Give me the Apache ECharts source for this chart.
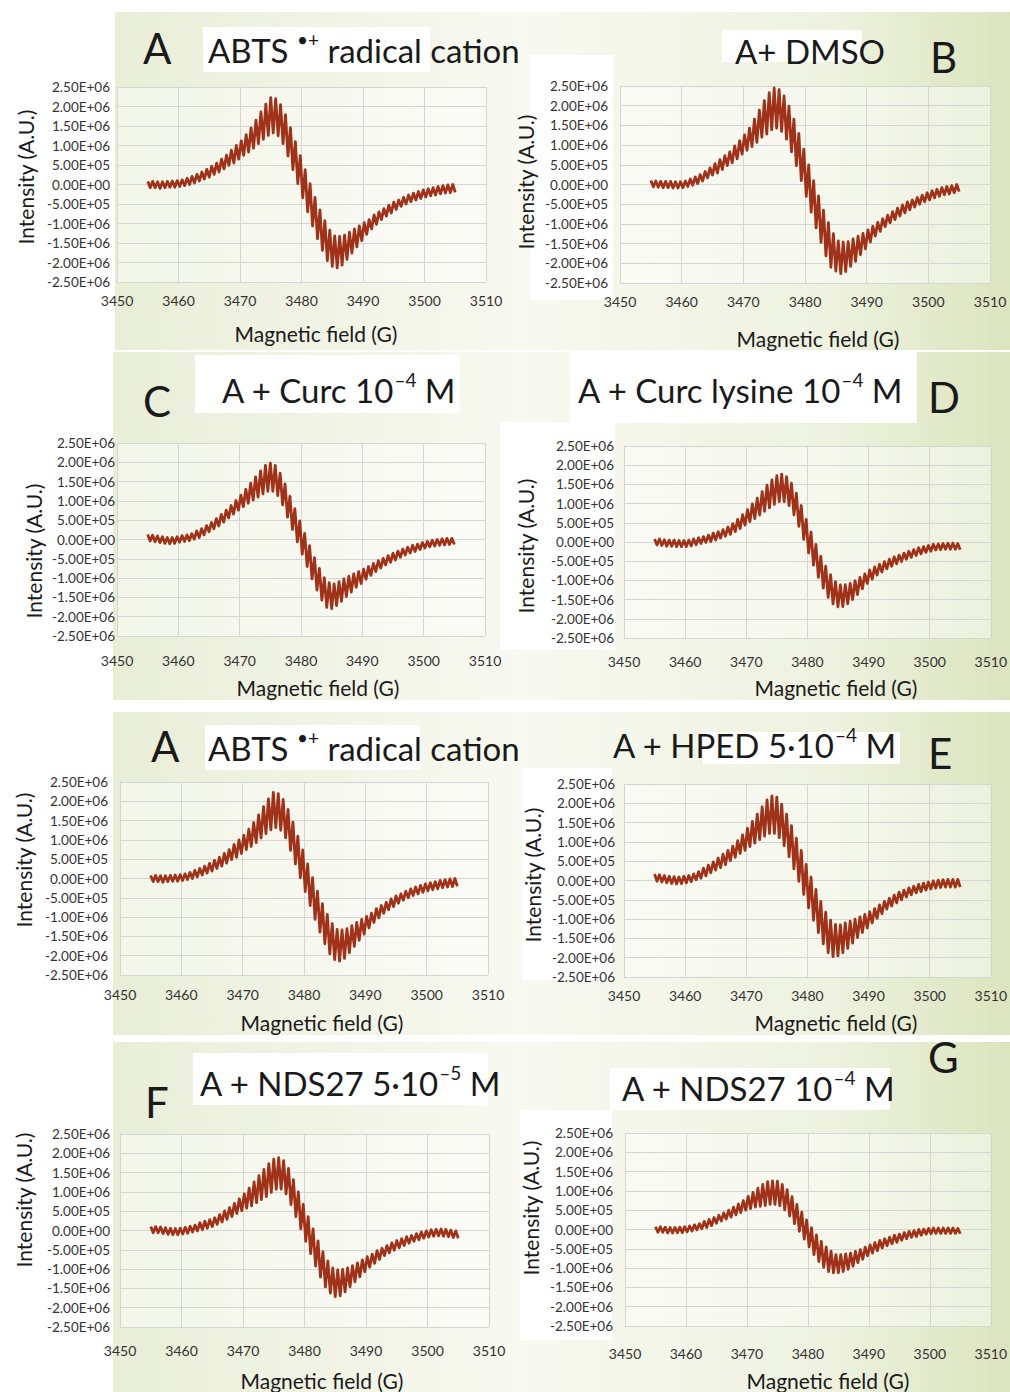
<!DOCTYPE html>
<html>
<head>
<meta charset="utf-8">
<script src="https://cdn.jsdelivr.net/npm/echarts@6/dist/echarts.min.js"></script>
<style>
  html, body { margin: 0; padding: 0; background: #ffffff; }
  #chart { width: 1010px; height: 1392px; }
</style>
</head>
<body>
<div id="chart"></div>
<script>
// Axis ranges: [min, max, step]
const FIELD_RANGE = [3450, 3510, 10];          // magnetic field, G
const INTENSITY_RANGE = [-2.5e6, 2.5e6, 5e5];  // intensity, A.U.

// Every spectrum is sampled from 3455 G in 0.4 G steps; values are in units of 1e5 A.U.
const FIELD_START = 3455;
const FIELD_STEP = 0.4;
const UNIT = 1e5;

// ABTS radical cation alone
const abtsRadical = [
  0.8,-0.8,0.8,-0.8,0.7, -1.0,0.7,-0.8,0.8,-0.7, 0.9,-0.7,1.0,-0.5,1.2, -0.3,1.6,0.0,2.1,0.4,
  2.6,0.9,3.2,1.4,3.9, 1.9,4.7,2.6,5.5,3.2, 6.5,4.0,7.5,4.9,8.8, 5.5,10.0,6.5,11.2,7.5,
  12.8,8.3,14.5,9.3,16.5, 10.5,18.6,11.6,20.6,12.6, 22.3,13.2,22.0,12.5,20.5, 10.5,17.9,7.3,14.6,3.8,
  11.0,0.2,7.4,-3.4,3.8, -7.0,0.2,-10.6,-3.3,-13.9, -6.5,-16.9,-9.3,-19.5,-11.7, -21.0,-13.2,-21.4,-13.3,-20.7,
  -13.0,-19.2,-12.2,-17.6,-11.4, -16.0,-10.6,-14.4,-9.8,-12.8, -9.0,-11.4,-7.8,-10.2,-7.0, -9.0,-6.2,-8.1,-5.3,-7.3,
  -4.5,-6.4,-4.0,-5.6,-3.3, -5.0,-2.7,-4.4,-2.2,-4.0, -1.8,-3.6,-1.4,-3.2,-1.1, -2.9,-0.8,-2.7,-0.5,-2.4,
  -0.3,-2.2,-0.1,-2.1,0.0, -2.0
];

// A + DMSO
const abtsDmso = [
  1.0,-0.6,0.9,-0.7,0.8, -0.8,0.8,-0.8,0.8,-0.9, 0.7,-0.9,0.7,-0.8,0.9, -0.5,1.4,-0.2,1.9,0.2,
  2.5,0.9,3.3,1.7,4.2, 2.4,5.3,2.9,6.3,3.8, 7.3,4.8,8.3,5.5,9.8, 6.5,11.1,7.7,12.6,8.7,
  14.3,9.6,16.6,10.7,18.9, 12.0,21.3,12.8,23.3,13.9, 24.5,14.3,24.1,13.5,22.5, 11.5,19.9,8.3,16.6,4.8,
  13.0,1.0,9.0,-3.0,5.0, -7.0,1.0,-11.0,-2.9,-14.7, -6.5,-18.1,-9.7,-21.0,-12.5, -22.0,-14.3,-22.6,-14.6,-22.1,
  -14.5,-20.8,-13.8,-19.5,-13.1, -17.8,-12.4,-16.3,-11.5,-14.6, -10.6,-13.1,-9.6,-11.9,-8.7, -10.7,-7.8,-9.7,-6.9,-8.9,
  -6.0,-8.0,-5.2,-7.2,-4.4, -6.4,-3.9,-5.7,-3.3,-5.0, -2.7,-4.4,-2.1,-3.9,-1.6, -3.4,-1.2,-3.0,-0.8,-2.6,
  -0.5,-2.4,-0.3,-2.1,0.0, -1.8
];

// A + Curc 10^-4 M
const abtsCurc = [
  1.3,-0.4,1.1,-0.6,0.9, -0.8,0.7,-1.0,0.5,-1.1, 0.5,-1.0,0.7,-0.7,1.0, -0.5,1.2,-0.3,1.5,0.1,
  2.2,0.5,2.8,1.2,3.6, 2.0,4.4,2.8,5.4,3.5, 6.5,4.5,7.6,5.6,8.8, 6.6,10.1,7.6,11.5,8.5,
  13.0,9.4,14.6,10.2,16.2, 11.0,17.8,11.8,19.2,12.5, 19.8,12.5,19.2,11.4,17.2, 9.0,14.4,5.8,11.2,2.6,
  8.0,-0.6,4.8,-3.8,1.6, -7.0,-1.6,-10.2,-4.7,-13.1, -7.5,-15.7,-9.9,-17.6,-11.2, -17.9,-11.5,-17.1,-10.9,-16.0,
  -10.2,-14.8,-9.5,-13.6,-8.9, -12.4,-8.3,-11.4,-7.7,-10.3, -7.0,-9.3,-6.2,-8.3,-5.5, -7.4,-4.9,-6.6,-4.2,-5.9,
  -3.6,-5.3,-3.0,-4.6,-2.5, -4.0,-2.0,-3.5,-1.5,-3.1, -1.2,-2.6,-0.8,-2.2,-0.5, -1.9,-0.2,-1.7,0.0,-1.5,
  0.2,-1.4,0.3,-1.3,0.3, -1.3
];

// A + Curc lysine 10^-4 M
const abtsCurcLysine = [
  0.8,-0.8,0.8,-0.9,0.6, -1.1,0.5,-1.1,0.5,-1.2, 0.4,-1.2,0.4,-1.2,0.5, -1.0,0.8,-0.7,1.1,-0.4,
  1.4,-0.1,1.8,0.1,2.3, 0.5,2.7,1.0,3.2,1.5, 3.9,2.0,4.8,2.7,5.9, 3.5,7.1,4.4,8.4,5.3,
  9.9,6.1,11.4,7.0,13.1, 8.0,14.8,8.9,16.2,9.8, 17.3,10.5,17.7,10.5,17.0, 9.5,15.3,7.1,12.7,4.1,
  9.5,0.7,5.9,-2.8,2.6, -6.0,-0.6,-9.2,-3.7,-12.0, -6.3,-14.4,-8.5,-16.1,-10.3, -16.9,-11.2,-16.8,-11.1,-16.1,
  -10.8,-15.0,-10.1,-13.7,-9.2, -12.2,-8.3,-10.8,-7.3,-9.7, -6.5,-8.6,-5.8,-7.8,-5.1, -7.0,-4.5,-6.3,-3.9,-5.7,
  -3.4,-5.1,-2.9,-4.5,-2.4, -4.0,-2.0,-3.5,-1.5,-3.1, -1.2,-2.7,-0.9,-2.4,-0.6, -2.1,-0.5,-2.0,-0.4,-1.9,
  -0.3,-1.9,-0.3,-1.9,-0.4, -2.0
];

// A + HPED 5·10^-4 M
const abtsHped = [
  1.7,-0.2,1.5,-0.4,1.3, -0.6,1.1,-0.8,1.0,-0.9, 0.9,-0.8,1.1,-0.6,1.3, -0.3,1.7,0.2,2.3,0.6,
  3.2,1.2,4.0,2.0,4.8, 2.7,5.8,3.3,6.8,4.1, 7.8,5.1,8.9,6.0,10.3, 7.0,11.8,7.8,13.5,8.8,
  15.3,9.7,17.2,10.6,19.1, 11.5,20.9,12.2,21.9,12.2, 21.6,11.1,19.8,9.0,17.2, 6.2,14.2,3.0,11.0,-0.2,
  7.8,-3.6,4.2,-7.1,0.9, -10.3,-2.3,-13.5,-5.4,-16.4, -8.2,-18.7,-10.3,-19.7,-11.4, -19.5,-11.5,-18.7,-11.0,-17.6,
  -10.5,-16.2,-10.0,-14.8,-9.4, -13.5,-8.8,-12.3,-8.1,-11.0, -7.3,-9.8,-6.3,-8.6,-5.4, -7.4,-4.6,-6.6,-3.8,-5.8,
  -3.0,-5.0,-2.5,-4.3,-1.9, -3.7,-1.5,-3.2,-1.0,-2.9, -0.7,-2.5,-0.4,-2.2,-0.1, -2.0,0.1,-1.8,0.2,-1.7,
  0.3,-1.7,0.3,-1.7,0.3, -1.7
];

// A + NDS27 5·10^-5 M
const abtsNds27Low = [
  1.0,-0.6,1.0,-0.6,0.9, -0.8,0.7,-1.0,0.6,-1.1, 0.5,-1.1,0.6,-0.9,0.8, -0.7,1.1,-0.4,1.4,-0.1,
  2.0,0.2,2.4,0.6,2.8, 1.0,3.3,1.6,4.1,2.2, 5.1,2.9,5.9,3.6,7.0, 4.4,8.2,5.1,9.5,5.8,
  11.0,6.4,12.6,7.2,14.2, 8.0,15.8,8.8,17.3,9.9, 18.5,10.7,18.9,10.7,18.1, 9.5,16.1,6.7,13.2,3.6,
  10.0,0.4,6.8,-2.8,3.6, -6.0,0.4,-9.2,-2.7,-12.1, -5.5,-14.6,-7.9,-16.2,-9.7, -17.1,-10.2,-16.9,-10.1,-15.9,
  -9.7,-14.6,-9.1,-13.3,-8.4, -12.0,-7.6,-10.7,-6.8,-9.5, -6.1,-8.5,-5.2,-7.5,-4.6, -6.5,-3.9,-5.8,-3.2,-5.1,
  -2.6,-4.5,-2.1,-3.9,-1.6, -3.3,-1.3,-2.8,-0.8,-2.4, -0.4,-2.0,-0.1,-1.7,0.2, -1.5,0.3,-1.4,0.4,-1.5,
  0.3,-1.6,0.1,-1.8,-0.1, -2.0
];

// A + NDS27 10^-4 M
const abtsNds27High = [
  0.7,-0.7,0.7,-0.7,0.6, -0.9,0.5,-0.9,0.5,-0.8, 0.6,-0.8,0.7,-0.6,0.9, -0.4,1.2,-0.1,1.5,0.2,
  2.1,0.5,2.6,1.0,3.1, 1.6,3.7,2.2,4.3,2.7, 5.0,3.2,5.8,3.8,6.6, 4.4,7.5,5.0,8.6,5.4,
  9.6,5.8,10.7,6.0,11.7, 6.2,12.4,6.5,12.6,6.5, 12.5,6.1,11.7,5.1,10.3, 3.5,8.5,1.5,6.5,-0.5,
  4.5,-2.5,2.5,-4.5,0.5, -6.5,-1.4,-8.3,-3.1,-9.8, -4.5,-10.9,-5.6,-11.2,-6.5, -11.2,-6.5,-10.9,-6.3,-10.3,
  -6.1,-9.5,-5.7,-8.6,-5.2, -7.7,-4.6,-6.8,-4.0,-6.1, -3.4,-5.5,-2.8,-4.8,-2.4, -4.2,-2.0,-3.7,-1.5,-3.3,
  -1.2,-2.8,-0.8,-2.4,-0.5, -2.0,-0.3,-1.8,0.0,-1.5, 0.1,-1.2,0.3,-1.1,0.4, -1.0,0.4,-1.0,0.4,-1.0,
  0.4,-1.0,0.4,-1.0,0.3, -1.1
];

const X_NAME = 'Magnetic field (G)';
const Y_NAME = 'Intensity (A.U.)';

// Panel placement (pixels) and axis-title anchors
const panels = [
  { values: abtsRadical,    grid: [117, 87, 369, 195],  xMargin: 11, yMargin: 7,  yName: [25, 177],  xName: [316, 333] },
  { values: abtsDmso,       grid: [620, 86, 370, 197],  xMargin: 11, yMargin: 12, yName: [525, 182], xName: [818, 338] },
  { values: abtsCurc,       grid: [117, 443, 368, 193], xMargin: 17, yMargin: 2,  yName: [33, 551],  xName: [318, 687] },
  { values: abtsCurcLysine, grid: [624, 446, 370, 192], xMargin: 16, yMargin: 10, yName: [525, 546], xName: [836, 687] },
  { values: abtsRadical,    grid: [120, 782, 368, 193], xMargin: 12, yMargin: 12, yName: [23, 860],  xName: [322, 1022] },
  { values: abtsHped,       grid: [624, 784, 368, 193], xMargin: 11, yMargin: 9,  yName: [532, 875], xName: [836, 1022] },
  { values: abtsNds27Low,   grid: [120, 1134, 369, 193], xMargin: 16, yMargin: 10, yName: [23, 1200], xName: [322, 1380] },
  { values: abtsNds27High,  grid: [625, 1133, 369, 193], xMargin: 20, yMargin: 12, yName: [530, 1208], xName: [828, 1380] }
];

// Headings: panel letter and sample description (rich text, superscripts as small raised runs)
const letters = [
  ['A', 143, 48], ['B', 930, 57], ['C', 143, 401], ['D', 928, 397],
  ['A', 151, 746], ['E', 928, 753], ['F', 145, 1102], ['G', 928, 1057]
];
const captions = [
  ['{t|ABTS }{s|•+}{t| radical cation}', 208, 50],
  ['{t|A+ DMSO}', 735, 51],
  ['{t|A + Curc 10}{s|–4}{t| M}', 222, 390],
  ['{t|A + Curc lysine 10}{s|–4}{t| M}', 578, 390],
  ['{t|ABTS }{s|•+}{t| radical cation}', 208, 748],
  ['{t|A + HPED 5·10}{s|–4}{t| M}', 613, 745],
  ['{t|A + NDS27 5·10}{s|–5}{t| M}', 200, 1083],
  ['{t|A + NDS27 10}{s|–4}{t| M}', 622, 1088]
];

const FONT = 'Lato, "Open Sans", "DejaVu Sans", sans-serif';
const INK = '#1a1a1a';
const LINE = '#a03219';

function toPoints(values) {
  return values.map((v, i) => [Math.round((FIELD_START + i * FIELD_STEP) * 10) / 10, v * UNIT]);
}

function sci(v) {
  v = Math.round(v);
  if (v === 0) return '0.00E+00';
  const e = Math.floor(Math.log10(Math.abs(v)) + 1e-9);
  const m = v / Math.pow(10, e);
  return m.toFixed(2) + 'E+' + String(e).padStart(2, '0');
}

const grids = [], xAxes = [], yAxes = [], series = [], graphics = [];

// Soft green backdrop behind each row of plots
const greenFill = {
  type: 'linear', x: 0, y: 0, x2: 1, y2: 0,
  colorStops: [
    { offset: 0, color: '#e9eed7' },
    { offset: 0.45, color: '#f8f9f1' },
    { offset: 0.8, color: '#eef2df' },
    { offset: 1, color: '#dbe4bd' }
  ]
};
[[115, 12, 895, 338], [113, 352, 897, 348], [113, 712, 897, 323], [113, 1042, 897, 350]].forEach(r => {
  graphics.push({ type: 'rect', z: -20, shape: { x: r[0], y: r[1], width: r[2], height: r[3] }, style: { fill: greenFill } });
});
// White patches behind headings and right-column axis labels
[[203, 27, 227, 45], [722, 30, 140, 32], [530, 55, 83, 245],
 [195, 355, 265, 58], [570, 350, 347, 73], [500, 422, 115, 228],
 [205, 725, 215, 45], [703, 732, 197, 32], [522, 768, 90, 212],
 [193, 1053, 295, 52], [610, 1068, 280, 42], [520, 1110, 92, 230]].forEach(r => {
  graphics.push({ type: 'rect', z: -15, shape: { x: r[0], y: r[1], width: r[2], height: r[3] }, style: { fill: '#ffffff' } });
});

panels.forEach((p, i) => {
  grids.push({
    left: p.grid[0], top: p.grid[1], width: p.grid[2], height: p.grid[3],
    show: true, backgroundColor: 'rgba(255,255,255,0.45)', borderWidth: 0, containLabel: false
  });
  xAxes.push({
    type: 'value', gridIndex: i,
    min: FIELD_RANGE[0], max: FIELD_RANGE[1], interval: FIELD_RANGE[2],
    axisLine: { show: false }, axisTick: { show: false },
    splitLine: { show: true, lineStyle: { color: '#d5d5d5', width: 1 } },
    axisLabel: { margin: p.xMargin, color: '#333', fontSize: 14, fontFamily: FONT, formatter: v => String(Math.round(v)) }
  });
  yAxes.push({
    type: 'value', gridIndex: i,
    min: INTENSITY_RANGE[0], max: INTENSITY_RANGE[1], interval: INTENSITY_RANGE[2],
    axisLine: { show: false }, axisTick: { show: false },
    splitLine: { show: true, lineStyle: { color: '#d5d5d5', width: 1 } },
    axisLabel: { margin: p.yMargin, color: '#333', fontSize: 13.5, fontFamily: FONT, formatter: sci }
  });
  series.push({
    type: 'line', xAxisIndex: i, yAxisIndex: i,
    data: toPoints(p.values),
    showSymbol: false, symbol: 'none', smooth: false,
    lineStyle: { color: LINE, width: 2.8, join: 'round' },
    animation: false, silent: true
  });
  graphics.push({
    type: 'text', z: 10, x: p.yName[0], y: p.yName[1], rotation: Math.PI / 2,
    style: { text: Y_NAME, fill: INK, font: '21px ' + FONT, align: 'center', verticalAlign: 'middle' }
  });
  graphics.push({
    type: 'text', z: 10, x: p.xName[0], y: p.xName[1],
    style: { text: X_NAME, fill: INK, font: '21px ' + FONT, align: 'center', verticalAlign: 'middle' }
  });
});

letters.forEach(l => {
  graphics.push({
    type: 'text', z: 10, x: l[1], y: l[2],
    style: { text: l[0], fill: INK, font: '42px ' + FONT, align: 'left', verticalAlign: 'middle' }
  });
});
captions.forEach(c => {
  graphics.push({
    type: 'text', z: 10, x: c[1], y: c[2],
    style: {
      text: c[0], align: 'left', verticalAlign: 'middle',
      rich: {
        t: { fontSize: 33, fontFamily: FONT, fill: INK, lineHeight: 40 },
        s: { fontSize: 19, fontFamily: FONT, fill: INK, lineHeight: 22, verticalAlign: 'top' }
      }
    }
  });
});

const chart = echarts.init(document.getElementById('chart'), null, { renderer: 'svg', width: 1010, height: 1392 });
chart.setOption({
  animation: false,
  backgroundColor: '#ffffff',
  grid: grids,
  xAxis: xAxes,
  yAxis: yAxes,
  series: series,
  graphic: graphics
});
</script>
</body>
</html>
